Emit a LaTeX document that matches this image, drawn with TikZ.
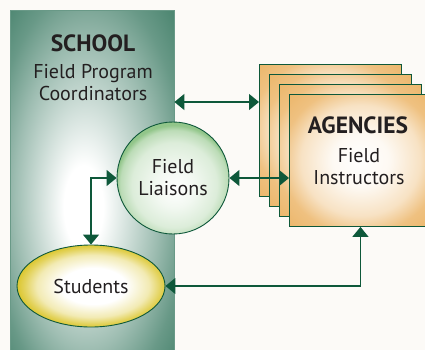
\documentclass[tikz,border=0pt]{standalone}
\usepackage{fontspec}
\setmainfont{PT Sans}
\usetikzlibrary{shapes.geometric, arrows.meta, positioning}
\definecolor{schoolgreen}{RGB}{78,135,114}
\definecolor{linkgreen}{RGB}{14,88,58}
\definecolor{liaisongreen}{RGB}{146,198,138}
\definecolor{studentyellow}{RGB}{218,196,38}
\definecolor{agencytan}{RGB}{236,182,106}
\definecolor{paper}{RGB}{252,250,247}
\definecolor{inktext}{RGB}{35,31,32}
\pgfdeclareradialshading{schoolshade}{\pgfpoint{-3bp}{-4bp}}{%
    color(0bp)=(white); color(6bp)=(white); color(22bp)=(schoolgreen!55);
    color(30bp)=(schoolgreen!85); color(36bp)=(schoolgreen); color(50bp)=(schoolgreen)}
\pgfdeclareradialshading{liaisonshade}{\pgfpoint{1bp}{-5bp}}{%
    color(0bp)=(white); color(9bp)=(liaisongreen!12); color(19bp)=(liaisongreen!32);
    color(24bp)=(liaisongreen!62); color(26bp)=(liaisongreen); color(50bp)=(liaisongreen)}
\pgfdeclareradialshading{studentshade}{\pgfpoint{1bp}{0bp}}{%
    color(0bp)=(white); color(11bp)=(white); color(19bp)=(studentyellow!35);
    color(23bp)=(studentyellow!75); color(26bp)=(studentyellow); color(50bp)=(studentyellow)}
\pgfdeclareradialshading{agencyshade}{\pgfpoint{0bp}{0bp}}{%
    color(0bp)=(white); color(10bp)=(agencytan!8); color(21bp)=(agencytan!40);
    color(28bp)=(agencytan!85); color(36bp)=(agencytan); color(50bp)=(agencytan)}

\begin{document}
\begin{tikzpicture}[
    x=1pt, y=-1pt,
    school/.style={draw=schoolgreen!85, shading=schoolshade, minimum width=164pt, minimum height=345pt, anchor=north west},
    liaison/.style={circle, draw=linkgreen, line width=0.9pt, shading=liaisonshade, minimum size=112pt, inner sep=0pt},
    student/.style={ellipse, draw=linkgreen, line width=0.9pt, shading=studentshade, minimum width=148pt, minimum height=82pt},
    agency/.style={draw=linkgreen, line width=0.9pt, shading=agencyshade, minimum width=142pt, minimum height=132pt, anchor=north west},
    headtext/.style={font=\fontsize{23.5}{28}\selectfont\bfseries, text=inktext},
    bodytext/.style={font=\fontsize{20}{22}\selectfont, text=inktext, align=center},
    link/.style={{Triangle[length=10pt,width=16pt]}-{Triangle[length=10pt,width=16pt]}, line width=1.3pt, draw=linkgreen}
]
    \clip (0,0) rectangle (425,350);
    \fill[paper] (0,0) rectangle (425,350);

    % School
    \node[school] (school) at (10,10) {};
    \node[headtext] (schooltitle) at (93,43) {SCHOOL};
    \node[bodytext] (schoolsub) at (93,83) {Field Program\\Coordinators};

    % Agencies
    \foreach \i in {0,...,3}
        \node[agency] (ag\i) at (259+10*\i, 64+10*\i) {};
    \node[headtext] (agtitle) at (358,125) {AGENCIES};
    \node[bodytext] (agsub) at (359,167) {Field\\Instructors};

    % Liaisons and students
    \node[liaison, bodytext] (liaisons) at (173,178) {Field\\Liaisons};
    \node[student, bodytext] (students) at (91,286) {Students};

    % Links
    \coordinate (progline) at (0,102);
    \draw[link] (school.east |- progline) -- (ag0.west |- progline);
    \draw[link] (liaisons.east) -- (ag3.west |- liaisons.east);
    \draw[link] (liaisons.west) -| (students.north);
    \draw[link] (students.east) -| (ag3.south);
\end{tikzpicture}
\end{document}
